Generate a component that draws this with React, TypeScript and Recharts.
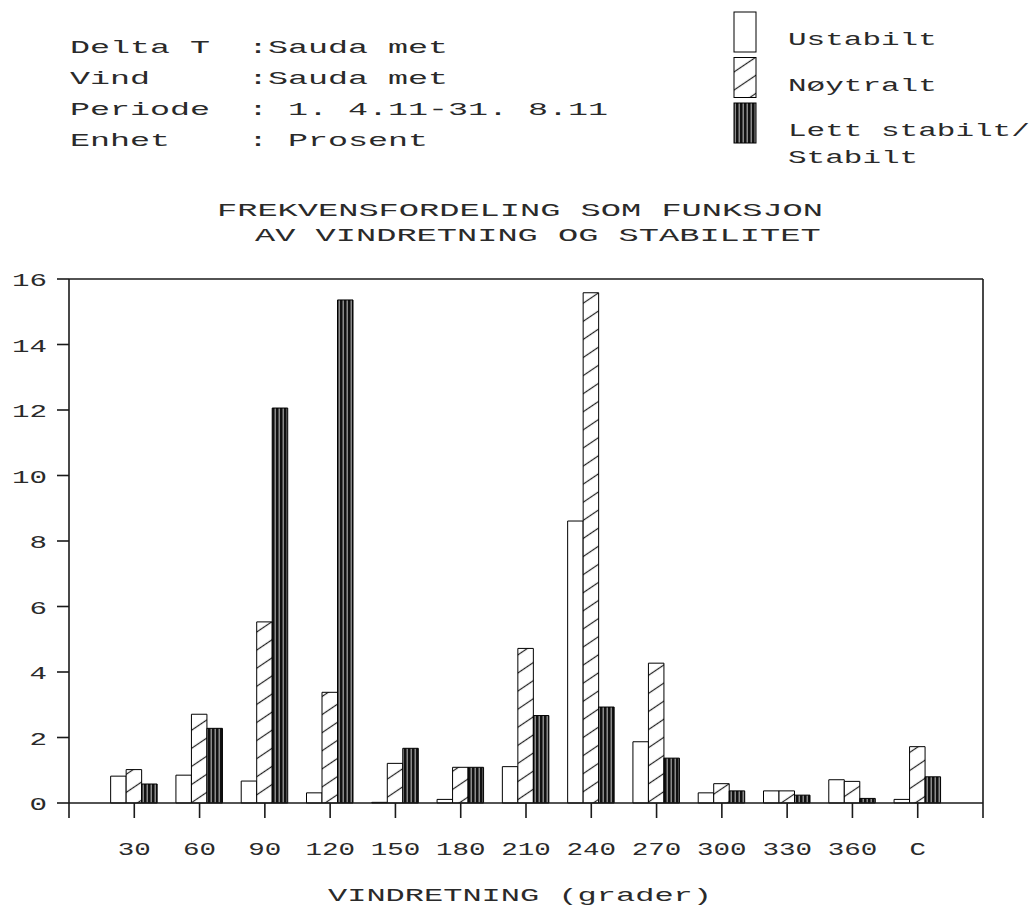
import React from 'react';
import { BarChart, Bar, XAxis, YAxis, Legend } from 'recharts';

const directions = ['30', '60', '90', '120', '150', '180', '210', '240', '270', '300', '330', '360', 'C'];
const ustabilt = [0.82, 0.85, 0.67, 0.31, 0.02, 0.11, 1.11, 8.61, 1.87, 0.31, 0.37, 0.71, 0.11];
const noytralt = [1.02, 2.71, 5.53, 3.38, 1.21, 1.09, 4.72, 15.58, 4.27, 0.59, 0.37, 0.66, 1.72];
const stabilt = [0.58, 2.28, 12.06, 15.36, 1.67, 1.09, 2.67, 2.93, 1.37, 0.37, 0.24, 0.14, 0.8];
const yTicks = [0, 2, 4, 6, 8, 10, 12, 14, 16];
const xTicks = [0, 1, 2, 3, 4, 5, 6, 7, 8, 9, 10, 11, 12, 13, 14];

const headerRows = [
  ['Delta T', ':Sauda met'],
  ['Vind', ':Sauda met'],
  ['Periode', ': 1. 4.11-31. 8.11'],
  ['Enhet', ': Prosent'],
];
const titleLines = ['FREKVENSFORDELING SOM FUNKSJON', 'AV VINDRETNING OG STABILITET'];

const series = [
  { key: 'ustabilt', name: 'Ustabilt', fill: '#fff' },
  { key: 'noytralt', name: 'Nøytralt', fill: 'url(#hatch)' },
  { key: 'stabilt', name: 'Lett stabilt/\nStabilt', fill: 'url(#stripes)' },
];

const data = directions.map((label, i) => ({
  pos: i + 1,
  label,
  ustabilt: ustabilt[i],
  noytralt: noytralt[i],
  stabilt: stabilt[i],
}));

const FONT = '"Liberation Mono", "DejaVu Sans Mono", monospace';
const INK = '#1a1a1a';
const TXT = '#2a2a2a';

// stretched courier-ish text, like the old plotter output
const Wide = ({ x, y, text, adv, size = 19 }: { x: number; y: number; text: string; adv: number; size?: number }) => (
  <text
    x={x}
    y={y}
    fontFamily={FONT}
    fontSize={size}
    fill={TXT}
    textLength={text.length * adv}
    lengthAdjust="spacingAndGlyphs"
    xmlSpace="preserve"
  >
    {text}
  </text>
);

const XTick = (props: any) => {
  const { x, y, payload } = props;
  const label = directions[payload.value - 1];
  if (!label) return <g />;
  const w = label.length * 16.5;
  return <Wide x={x - w / 2} y={y + 35} text={label} adv={16.5} />;
};

const YTick = (props: any) => {
  const { x, y, payload } = props;
  const label = String(payload.value);
  const w = label.length * 17.5;
  return <Wide x={x - 8 - w} y={y + 7} text={label} adv={17.5} />;
};

const LegendBox = () => (
  <svg width={313} height={180}>
    {series.map((s, i) => {
      const top = 12 + i * 45.5;
      const lines = s.name.split('\n');
      return (
        <g key={s.key}>
          <rect x={14} y={top} width={22} height={40} fill={s.fill} stroke="#000" strokeWidth={1} />
          {lines.map((ln, j) => (
            <Wide key={j} x={68} y={top + 33 + j * 27} text={ln} adv={18.6} />
          ))}
        </g>
      );
    })}
  </svg>
);

export default function App() {
  return (
    <div style={{ position: 'absolute', left: 0, top: 0, width: 1033, height: 912, background: '#fff' }}>
      <svg width={1033} height={260} style={{ position: 'absolute', left: 0, top: 0 }}>
        {headerRows.map(([k, v], i) => (
          <g key={k}>
            <Wide x={70} y={53 + i * 31} text={k} adv={20} />
            <Wide x={248} y={53 + i * 31} text={v} adv={20} />
          </g>
        ))}
        <Wide x={217} y={216} text={titleLines[0]} adv={20.2} />
        <Wide x={255} y={241} text={titleLines[1]} adv={20.2} />
      </svg>
      <BarChart
        width={1033}
        height={912}
        data={data}
        margin={{ top: 264, right: 30, bottom: 69, left: 9 }}
        barGap={0}
        barSize={15.5}
        style={{ position: 'absolute', left: 0, top: 0 }}
      >
        <defs>
          <pattern id="hatch" width={10} height={15} patternUnits="userSpaceOnUse" patternTransform="rotate(-34)">
            <rect width={10} height={15} fill="#fff" />
            <line x1={0} y1={7.5} x2={10} y2={7.5} stroke="#222" strokeWidth={1.2} />
          </pattern>
          <pattern id="stripes" width={4} height={4} patternUnits="userSpaceOnUse">
            <rect width={4} height={4} fill="#111" />
            <rect x={2.5} width={1.5} height={4} fill="#8a8a8a" />
          </pattern>
        </defs>
        <XAxis
          xAxisId="bottom"
          dataKey="pos"
          type="number"
          domain={[0, 14]}
          ticks={xTicks}
          interval={0}
          height={40}
          tickSize={15}
          tick={XTick}
          axisLine={{ stroke: INK, strokeWidth: 1.6 }}
          tickLine={{ stroke: INK, strokeWidth: 1.6 }}
        />
        <XAxis
          xAxisId="top"
          orientation="top"
          type="number"
          domain={[0, 14]}
          ticks={xTicks}
          interval={0}
          height={15}
          tickSize={13}
          tick={false}
          axisLine={{ stroke: INK, strokeWidth: 1.6 }}
          tickLine={{ stroke: INK, strokeWidth: 1.6 }}
        />
        <YAxis
          yAxisId="left"
          domain={[0, 16]}
          ticks={yTicks}
          interval={0}
          width={60}
          tickSize={12}
          tick={YTick}
          axisLine={{ stroke: INK, strokeWidth: 1.6 }}
          tickLine={{ stroke: INK, strokeWidth: 1.6 }}
        />
        <YAxis
          yAxisId="right"
          orientation="right"
          domain={[0, 16]}
          ticks={yTicks}
          interval={0}
          width={20}
          tickSize={14}
          tick={false}
          axisLine={{ stroke: INK, strokeWidth: 1.6 }}
          tickLine={{ stroke: INK, strokeWidth: 1.6 }}
        />
        <Legend
          layout="vertical"
          align="center"
          verticalAlign="middle"
          content={LegendBox}
          wrapperStyle={{ position: 'absolute', left: 720, top: 0, width: 313, height: 180 }}
        />
        {series.map((s) => (
          <Bar
            key={s.key}
            xAxisId="bottom"
            yAxisId="left"
            dataKey={s.key}
            name={s.name}
            fill={s.fill}
            stroke="#000"
            strokeWidth={1}
            isAnimationActive={false}
          />
        ))}
      </BarChart>
      <svg width={1033} height={60} style={{ position: 'absolute', left: 0, top: 860 }}>
        <Wide x={328} y={41} text="VINDRETNING (grader)" adv={19.2} />
      </svg>
    </div>
  );
}
